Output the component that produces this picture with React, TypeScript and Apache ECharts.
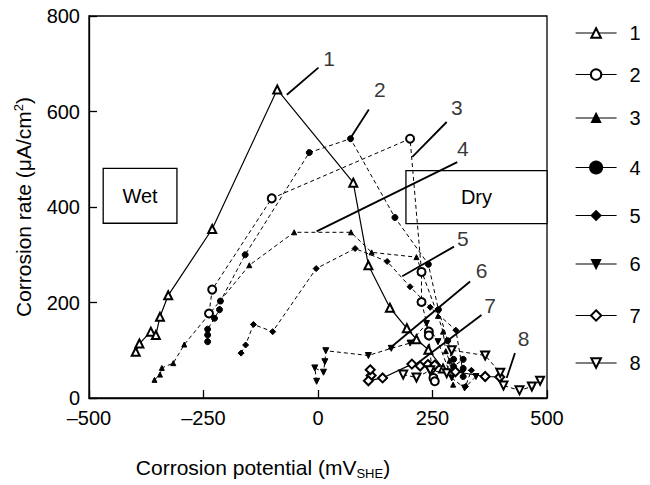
import React, { useEffect, useRef } from "react";
import * as echarts from "echarts";

// ---- data ----
const seriesNames = ["1", "2", "3", "4", "5", "6", "7", "8"];

const s1 = [[-398, 97], [-390, 114], [-365, 139], [-354, 132], [-345, 170], [-327, 215], [-231, 354], [-89, 646], [77, 451], [110, 278], [157, 189], [194, 146], [215, 123], [241, 101], [273, 62]];
const s2 = [[-238, 177], [-231, 227], [-101, 418], [201, 543], [226, 264], [226, 201], [242, 139], [242, 131], [248, 62], [252, 42], [255, 35]];
const s3 = [[-357, 38], [-345, 49], [-341, 63], [-316, 73], [-292, 112], [-150, 278], [-52, 347], [72, 347], [117, 305], [215, 295], [262, 172], [273, 139], [279, 98], [287, 78], [295, 28]];
const s4 = [[-241, 118], [-241, 132], [-241, 144], [-226, 167], [-215, 185], [-213, 203], [-159, 300], [-19, 514], [71, 543], [168, 378], [241, 280], [263, 185], [283, 120], [296, 81], [296, 66], [317, 81], [317, 62], [317, 45]];
const s5 = [[-168, 94], [-158, 111], [-141, 154], [-99, 139], [-4, 271], [81, 313], [151, 286], [201, 233], [245, 190], [301, 142], [316, 58], [335, 58], [322, 24]];
const s6 = [[-3, 35], [-7, 63], [12, 54], [15, 76], [17, 99], [110, 89], [160, 104], [201, 115], [237, 156], [262, 118], [292, 42], [320, 21], [345, 45]];
const s7 = [[116, 47], [114, 59], [110, 36], [141, 42], [205, 71], [223, 67], [240, 70], [255, 69], [300, 55], [365, 45], [397, 44]];
const s8 = [[186, 49], [215, 43], [245, 58], [281, 52], [292, 100], [365, 89], [398, 53], [405, 26], [440, 16], [467, 24], [485, 36]];

const seriesData = [s1, s2, s3, s4, s5, s6, s7, s8];
const seriesSymbols = ["emptyTriangle", "emptyCircle", "triangle", "circle", "diamond", "triangle", "emptyDiamond", "emptyTriangle"];
const seriesRotate = [0, 0, 0, 0, 0, 180, 0, 180];
const seriesSizes = [8, 8, 5, 6, 6, 6, 9, 8];
const seriesDashed = [false, true, true, true, true, true, false, true];

// annotation leader lines and their number labels
const leaderLines = [
  [[-68, 635], [1, 692]],
  [[70, 543], [111, 604]],
  [[206, 505], [281, 578]],
  [[-3, 349], [304, 494]],
  [[184, 255], [297, 317]],
  [[154, 102], [332, 244]],
  [[212, 69], [357, 174]],
  [[412, 42], [430, 94]],
];
const leaderLabels = [
  [24, 712], [135, 646], [303, 608], [316, 522], [316, 335], [357, 267], [376, 194], [449, 125],
];

const boxes = [
  { name: "Wet", from: [-469, 481], to: [-308, 366] },
  { name: "Dry", from: [192, 476], to: [500, 365] },
];

const xTicks = [-500, -250, 0, 250, 500];
const yTicks = [0, 200, 400, 600, 800];

const legendCenters = [29, 71, 113, 165, 211, 259, 312, 359];
const legendIconSizes = [12, 13, 10, 15, 11, 10, 13, 12];

const FONT = "'Liberation Sans', Arial, Helvetica, sans-serif";

function buildOption() {
  const series: any[] = [];
  // boxes + leader lines (beneath the data)
  series.push({
    type: "scatter",
    name: "annotations",
    z: 1,
    silent: true,
    symbolSize: 0,
    itemStyle: { color: "#000" },
    data: [leaderLabels[0]],
    markLine: {
      silent: true,
      symbol: ["none", "none"],
      label: { show: false },
      lineStyle: { color: "#000", width: 1.8, type: "solid" },
      emphasis: { disabled: true },
      data: leaderLines.map((l) => [{ coord: l[0] }, { coord: l[1] }]),
    },
    markArea: {
      silent: true,
      itemStyle: { color: "#fff", borderColor: "#000", borderWidth: 1.3 },
      label: { show: true, position: "inside", color: "#000", fontSize: 20, fontFamily: FONT, textBorderWidth: 0 },
      emphasis: { disabled: true },
      data: boxes.map((b) => [{ name: b.name, coord: b.from }, { coord: b.to }]),
    },
  });
  seriesData.forEach((d, i) => {
    series.push({
      type: "line",
      name: seriesNames[i],
      z: 3,
      data: d,
      symbol: seriesSymbols[i],
      symbolRotate: seriesRotate[i],
      symbolSize: seriesSizes[i],
      showAllSymbol: true,
      itemStyle: { color: "#000", borderColor: "#000", borderWidth: 1 },
      lineStyle: seriesDashed[i]
        ? { color: "#000", width: 1, type: [4, 3] }
        : { color: "#000", width: 1.2, type: "solid" },
      emphasis: { disabled: true },
    });
  });
  // number labels at the leader ends
  series.push({
    type: "scatter",
    name: "leaderNumbers",
    z: 6,
    silent: true,
    symbol: "circle",
    symbolSize: 0,
    itemStyle: { color: "#000" },
    data: leaderLabels.map((p, i) => ({ value: p, name: seriesNames[i] })),
    label: {
      show: true,
      position: "inside",
      formatter: (p: any) => p.name,
      color: "#000",
      textBorderWidth: 0,
      fontSize: 21,
      fontFamily: FONT,
    },
  });

  const legends = seriesNames.map((n, i) => ({
    data: [n],
    left: 575,
    top: legendCenters[i] - legendIconSizes[i] / 2,
    orient: "vertical",
    padding: 0,
    itemWidth: 41,
    itemHeight: legendIconSizes[i],
    selectedMode: false,
    textStyle: { color: "#000", fontSize: 20, fontFamily: FONT, padding: [0, 0, 0, 8] },
    lineStyle: { color: "#000", width: 1.2, type: "solid" },
  }));

  return {
    animation: false,
    backgroundColor: "#fff",
    textStyle: { fontFamily: FONT },
    grid: {
      left: 89,
      top: 16,
      width: 458,
      height: 384,
      show: true,
      borderColor: "#000",
      borderWidth: 1.3,
      backgroundColor: "transparent",
    },
    legend: legends,
    xAxis: {
      type: "value",
      min: xTicks[0],
      max: xTicks[xTicks.length - 1],
      interval: 250,
      splitLine: { show: false },
      axisLine: { onZero: false, lineStyle: { color: "#000", width: 1.3 } },
      axisTick: { inside: true, length: 8, lineStyle: { color: "#000", width: 1.3 } },
      axisLabel: {
        color: "#000",
        fontSize: 20,
        margin: 10,
        fontFamily: FONT,
        formatter: (v: number) => (v < 0 ? "\u2013" + Math.abs(v) : String(v)),
      },
      name: "Corrosion potential (mV{sub|SHE})",
      nameLocation: "middle",
      nameGap: 57,
      nameTextStyle: {
        color: "#000",
        fontSize: 21,
        fontFamily: FONT,
        padding: [0, 110, 0, 0],
        rich: {
          sub: { fontSize: 13, fontFamily: FONT, color: "#000", verticalAlign: "top", padding: [12, 0, 0, 0] },
        },
      },
    },
    yAxis: {
      type: "value",
      min: yTicks[0],
      max: yTicks[yTicks.length - 1],
      interval: 200,
      splitLine: { show: false },
      axisLine: { onZero: false, lineStyle: { color: "#000", width: 1.3 } },
      axisTick: { inside: true, length: 8, lineStyle: { color: "#000", width: 1.3 } },
      axisLabel: { color: "#000", fontSize: 20, margin: 9, fontFamily: FONT },
      name: "Corrosion rate (\u03bcA/cm{sup|2})",
      nameLocation: "middle",
      nameGap: 54,
      nameTextStyle: {
        color: "#000",
        fontSize: 21,
        fontFamily: FONT,
        rich: {
          sup: { fontSize: 13, fontFamily: FONT, color: "#000", verticalAlign: "bottom", padding: [0, 0, 10, 0] },
        },
      },
    },
    series,
  };
}

export default function App() {
  const ref = useRef<HTMLDivElement>(null);
  useEffect(() => {
    const chart = echarts.init(ref.current as HTMLDivElement, null, { renderer: "svg" });
    chart.setOption(buildOption() as any);
    return () => chart.dispose();
  }, []);
  return (
    <div
      ref={ref}
      style={{ position: "absolute", left: 0, top: 0, width: 650, height: 485, background: "#fff" }}
    />
  );
}
